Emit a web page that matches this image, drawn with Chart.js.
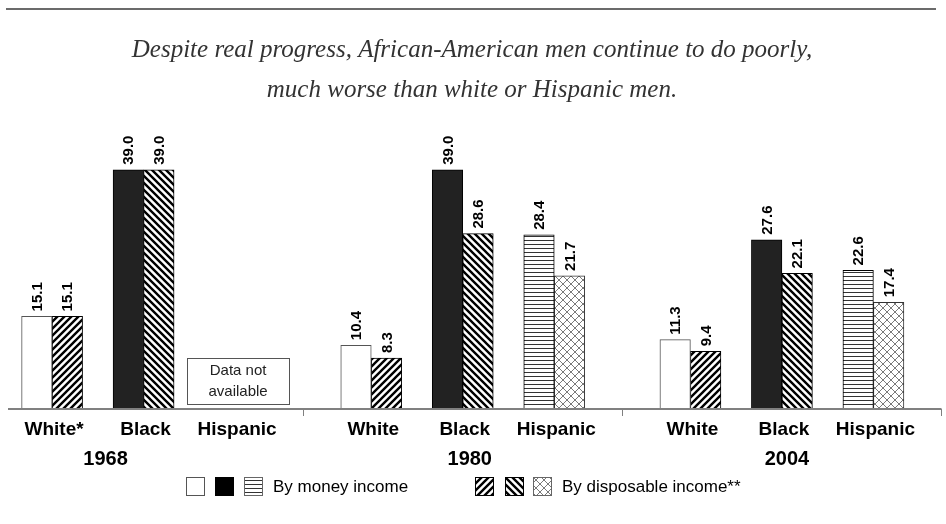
<!DOCTYPE html>
<html>
<head>
<meta charset="utf-8">
<script src="https://cdn.jsdelivr.net/npm/chart.js@4.4.1/dist/chart.umd.min.js"></script>
<style>
  html, body { margin: 0; padding: 0; background: #fff; overflow: hidden; }
  #wrap { width: 946px; height: 524px; position: relative; overflow: hidden; }
  /* the first group is cut at the left edge, like the original picture */
  #chart { position: absolute; left: -25px; top: 0; }
</style>
</head>
<body>
<div id="wrap"><canvas id="chart" width="971" height="524"></canvas></div>
<script>
const years = ['1968', '1980', '2004'];
const raceLabels = [
    ['White*', 'Black', 'Hispanic'],
    ['White', 'Black', 'Hispanic'],
    ['White', 'Black', 'Hispanic']
];
const whiteMoney = [15.1, 10.4, 11.3];
const whiteDisposable = [15.1, 8.3, 9.4];
const blackMoney = [39.0, 39.0, 27.6];
const blackDisposable = [39.0, 28.6, 22.1];
const hispanicMoney = [null, 28.4, 22.6];
const hispanicDisposable = [null, 21.7, 17.4];

const titleLines = [
    'Despite real progress, African-American men continue to do poorly,',
    'much worse than white or Hispanic men.'
];
const legendMoney = 'By money income';
const legendDisposable = 'By disposable income**';
const missingText = ['Data not', 'available'];

const OFFSET = 25; // canvas starts 25px left of the page

// hatch fills
const makePattern = (size, draw) => {
    const c = document.createElement('canvas');
    c.width = size;
    c.height = size;
    const g = c.getContext('2d');
    g.fillStyle = '#fff';
    g.fillRect(0, 0, size, size);
    draw(g, size);
    return c.getContext('2d').createPattern(c, 'repeat');
};

const diagUp = makePattern(7, (g, s) => {
    g.strokeStyle = '#000';
    g.lineWidth = 2.4;
    g.beginPath();
    g.moveTo(-1, s + 1); g.lineTo(s + 1, -1);
    g.moveTo(-1, 1); g.lineTo(1, -1);
    g.moveTo(s - 1, s + 1); g.lineTo(s + 1, s - 1);
    g.stroke();
});
const diagDown = makePattern(7, (g, s) => {
    g.strokeStyle = '#000';
    g.lineWidth = 2.4;
    g.beginPath();
    g.moveTo(-1, -1); g.lineTo(s + 1, s + 1);
    g.moveTo(s - 1, -1); g.lineTo(s + 1, 1);
    g.moveTo(-1, s - 1); g.lineTo(1, s + 1);
    g.stroke();
});
const horizontal = makePattern(4, (g, s) => {
    g.fillStyle = '#333';
    g.fillRect(0, 0, s, 1);
});
const crossHatch = makePattern(8, (g, s) => {
    g.strokeStyle = '#7a7a7a';
    g.lineWidth = 1;
    g.beginPath();
    g.moveTo(0, 0); g.lineTo(s, s);
    g.moveTo(s, 0); g.lineTo(0, s);
    g.stroke();
});

const bar = (label, data, fill, border) => ({
    label: label,
    data: data,
    backgroundColor: fill,
    borderColor: border,
    borderWidth: 1,
    barThickness: 30.5
});
const spacer = () => ({ label: '', data: [null, null, null], barThickness: 30.5 });

const datasets = [
    bar('White, money', whiteMoney, '#fff', '#555'),
    bar('White, disposable', whiteDisposable, diagUp, '#000'),
    spacer(),
    bar('Black, money', blackMoney, '#222', '#000'),
    bar('Black, disposable', blackDisposable, diagDown, '#000'),
    spacer(),
    bar('Hispanic, money', hispanicMoney, horizontal, '#000'),
    bar('Hispanic, disposable', hispanicDisposable, crossHatch, '#333')
];
// dataset index pairs for each race
const racePairs = [[0, 1], [3, 4], [6, 7]];
const yearShift = [-38, 7, 5];

const labelsPlugin = {
    id: 'labels',
    afterDraw(chart) {
        const ctx = chart.ctx;
        const area = chart.chartArea;
        const xScale = chart.scales.x;
        ctx.save();

        // page-fixed parts: rule, title, legend
        ctx.save();
        ctx.translate(OFFSET, 0);
        ctx.fillStyle = '#6b6b6b';
        ctx.fillRect(6, 8, 930, 2);

        ctx.fillStyle = '#333';
        ctx.font = 'italic 25px "Liberation Serif", serif';
        ctx.textAlign = 'center';
        ctx.textBaseline = 'alphabetic';
        ctx.fillText(titleLines[0], 472, 57);
        ctx.fillText(titleLines[1], 472, 97);

        const swatch = (x, fill, border) => {
            ctx.fillStyle = fill;
            ctx.fillRect(x, 477, 19, 19);
            ctx.strokeStyle = border;
            ctx.lineWidth = 1;
            ctx.strokeRect(x + 0.5, 477.5, 18, 18);
        };
        swatch(186, '#fff', '#555');
        swatch(215, '#000', '#000');
        swatch(244, horizontal, '#666');
        swatch(475, diagUp, '#000');
        swatch(505, diagDown, '#000');
        swatch(533, crossHatch, '#666');
        ctx.fillStyle = '#000';
        ctx.font = '17px "Liberation Sans", Arial, sans-serif';
        ctx.textAlign = 'left';
        ctx.textBaseline = 'middle';
        ctx.fillText(legendMoney, 273, 487);
        ctx.fillText(legendDisposable, 562, 487);
        ctx.restore();

        // axis line and ticks
        ctx.fillStyle = '#808080';
        ctx.fillRect(OFFSET + 8, area.bottom - 1, area.right - OFFSET - 8, 2);
        const ticks = [];
        for (let i = 0; i < years.length - 1; i++) {
            ticks.push((xScale.getPixelForValue(i) + xScale.getPixelForValue(i + 1)) / 2);
        }
        ticks.push(area.right - 1);
        ticks.forEach(t => ctx.fillRect(Math.round(t), area.bottom, 1, 7));

        // value labels
        ctx.fillStyle = '#000';
        ctx.font = 'bold 15px "Liberation Sans", Arial, sans-serif';
        ctx.textAlign = 'left';
        ctx.textBaseline = 'middle';
        chart.data.datasets.forEach((ds, di) => {
            const meta = chart.getDatasetMeta(di);
            ds.data.forEach((v, i) => {
                if (v === null) return;
                const el = meta.data[i];
                ctx.save();
                ctx.translate(el.x, el.y - 5);
                ctx.rotate(-Math.PI / 2);
                ctx.fillText(v.toFixed(1), 0, 1);
                ctx.restore();
            });
        });

        // race labels, missing-data box, years
        ctx.textAlign = 'center';
        years.forEach((y, i) => {
            racePairs.forEach((pair, r) => {
                const a = chart.getDatasetMeta(pair[0]).data[i];
                const b = chart.getDatasetMeta(pair[1]).data[i];
                const cx = (a.x + b.x) / 2;
                ctx.fillStyle = '#000';
                ctx.font = 'bold 19px "Liberation Sans", Arial, sans-serif';
                ctx.fillText(raceLabels[i][r], cx + 2, 430);
                if (chart.data.datasets[pair[0]].data[i] === null) {
                    ctx.fillStyle = '#fff';
                    ctx.strokeStyle = '#555';
                    ctx.lineWidth = 1;
                    ctx.fillRect(cx - 48, 358, 102, 46);
                    ctx.strokeRect(Math.round(cx - 48) + 0.5, 358.5, 102, 46);
                    ctx.fillStyle = '#222';
                    ctx.font = '15px "Liberation Sans", Arial, sans-serif';
                    ctx.fillText(missingText[0], cx + 3, 371);
                    ctx.fillText(missingText[1], cx + 3, 392);
                }
            });
            ctx.fillStyle = '#000';
            ctx.font = 'bold 20px "Liberation Sans", Arial, sans-serif';
            ctx.fillText(y, xScale.getPixelForValue(i) + yearShift[i], 459);
        });

        ctx.restore();
    }
};

new Chart(document.getElementById('chart'), {
    type: 'bar',
    data: { labels: years, datasets: datasets },
    options: {
        responsive: false,
        animation: false,
        layout: { padding: { left: 9, right: 4.5, top: 133, bottom: 115 } },
        scales: {
            x: { display: false },
            y: { display: false, min: 0, max: 45 }
        },
        plugins: {
            legend: { display: false },
            tooltip: { enabled: false }
        }
    },
    plugins: [labelsPlugin]
});
</script>
</body>
</html>
